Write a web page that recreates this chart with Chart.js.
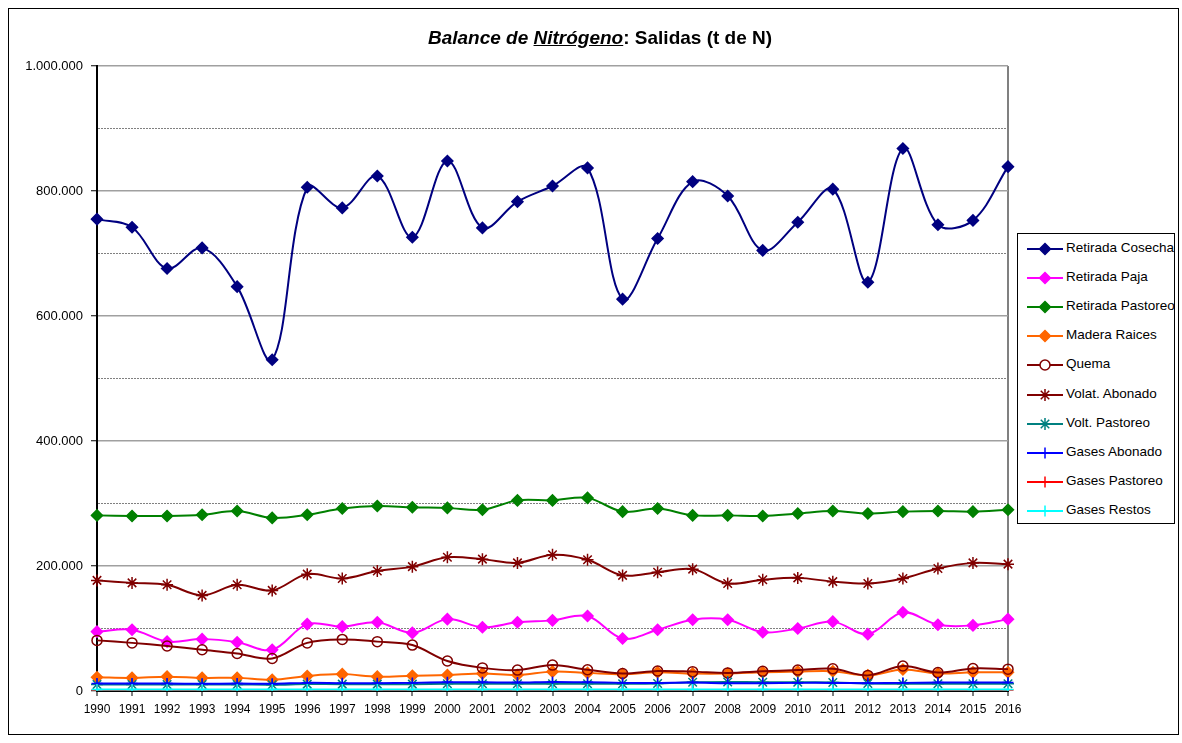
<!DOCTYPE html>
<html>
<head>
<meta charset="utf-8">
<script src="https://cdn.jsdelivr.net/npm/chart.js@4/dist/chart.umd.min.js"></script>
<style>
html,body{margin:0;padding:0;background:#fff;}
#wrap{position:relative;width:1182px;height:743px;overflow:hidden;background:#fff;}
#frame{position:absolute;left:8px;top:8px;width:1171px;height:727px;border:1px solid #000;box-sizing:border-box;pointer-events:none;}
#title{position:absolute;left:350px;width:500px;top:26px;text-align:center;font:bold 19px "Liberation Sans",Arial,sans-serif;color:#000;line-height:24px;}
#chart{position:absolute;left:0;top:0;}
#legend{position:absolute;left:1017px;top:233px;width:158px;height:291px;border:1px solid #000;box-sizing:border-box;background:#fff;}
.item{position:absolute;left:0;height:18px;white-space:nowrap;}
.item canvas{position:absolute;left:8px;top:0;}
.item span{position:absolute;left:48px;top:0;line-height:18px;font:13.5px "Liberation Sans",Arial,sans-serif;color:#000;}
</style>
</head>
<body>
<div id="wrap">
  <canvas id="chart" width="1182" height="743"></canvas>
  <div id="title"><i>Balance de <u>Nitrógeno</u></i>: Salidas (t de N)</div>
  <div id="legend"></div>
  <div id="frame"></div>
</div>
<script>
const years = ['1990','1991','1992','1993','1994','1995','1996','1997','1998','1999','2000','2001','2002','2003','2004','2005','2006','2007','2008','2009','2010','2011','2012','2013','2014','2015','2016'];

const retiradaCosecha = [755000,742000,676000,709000,647000,530000,806000,773000,824000,726000,848000,741000,783000,808000,837000,627000,724000,815000,792000,705000,750000,803000,654000,868000,746000,753000,839000];
const retiradaPaja = [95000,98000,79000,83000,78000,66000,107000,103000,110000,93000,115000,102000,110000,113000,120000,84000,98000,114000,114000,94000,100000,111000,91000,126000,106000,105000,115000];
const retiradaPastoreo = [281000,280000,280000,282000,288000,277000,282000,292000,296000,294000,293000,290000,305000,305000,309000,287000,292000,281000,281000,280000,284000,288000,284000,287000,288000,287000,290000];
const maderaRaices = [22000,21000,23000,21000,21000,18000,24000,27000,23000,24500,25500,28000,25500,31000,29000,27000,30000,28000,28000,30000,31000,31500,25000,34500,28000,30000,30000];
const quema = [81000,77000,72000,66000,60000,52000,77000,82500,79000,73500,48000,37000,33500,41500,34000,28000,32000,31000,29000,31500,33500,35500,25000,40000,29500,36000,35000];
const volatAbonado = [177000,173000,170000,153000,170000,161000,187000,180000,192000,199000,214000,211000,205000,218000,210000,185000,190000,195000,172000,178000,181000,175000,172000,180000,196000,205000,203000];
const voltPastoreo = [10500,10500,10500,10500,10500,10000,11000,11000,11000,11000,11500,11500,11500,11500,11500,11500,12000,14000,14500,14000,14000,13500,12000,11500,11500,11500,11500];
const gasesAbonado = [12000,12000,12000,11500,12000,11500,13000,12500,12500,13000,14000,14000,13500,14500,14000,13000,13000,13500,12500,12500,13000,13000,12500,13000,13500,13500,13500];
const gasesPastoreo = [1500,1500,1500,1500,1500,1500,1500,1500,1500,1500,1500,1500,1500,1500,1500,1500,1500,1500,1500,1500,1500,1500,1500,1500,1500,1500,1500];
const gasesRestos = [2500,2500,2500,2500,2500,2500,2500,2500,2500,2500,2500,2500,2500,2500,2500,2500,2500,2500,2500,2500,2500,2500,2500,2500,2500,2500,2500];

const seriesNames = ['Retirada Cosecha','Retirada Paja','Retirada Pastoreo','Madera Raices','Quema','Volat. Abonado','Volt. Pastoreo','Gases Abonado','Gases Pastoreo','Gases Restos'];
const seriesData = [retiradaCosecha,retiradaPaja,retiradaPastoreo,maderaRaices,quema,volatAbonado,voltPastoreo,gasesAbonado,gasesPastoreo,gasesRestos];
const styles = [
  {c:'#000080', p:'rectRot', r:5.5, fill:true},
  {c:'#FF00FF', p:'rectRot', r:5.5, fill:true},
  {c:'#008000', p:'rectRot', r:5.5, fill:true},
  {c:'#FF6600', p:'rectRot', r:5.5, fill:true},
  {c:'#800000', p:'circle', r:5, fill:false},
  {c:'#800000', p:'star', r:6, fill:false},
  {c:'#008080', p:'star', r:6, fill:false},
  {c:'#0000FF', p:'cross', r:5.5, fill:false},
  {c:'#FF0000', p:'cross', r:5.5, fill:false},
  {c:'#00FFFF', p:'cross', r:5.5, fill:false}
];

const FONT = '"Liberation Sans", Arial, sans-serif';
function fmt(v){ return String(v).replace(/\B(?=(\d{3})+(?!\d))/g,'.'); }

const datasets = seriesNames.map((n,i)=>({
  label:n,
  data:seriesData[i],
  borderColor:styles[i].c,
  backgroundColor: styles[i].fill ? styles[i].c : 'rgba(0,0,0,0)',
  pointStyle:styles[i].p,
  pointRadius:styles[i].r,
  pointHoverRadius:styles[i].r,
  pointBorderWidth:1.5,
  pointBackgroundColor: styles[i].fill ? styles[i].c : 'rgba(0,0,0,0)',
  pointBorderColor: styles[i].c,
  borderWidth:2,
  tension:0.35,
  fill:false,
  order: 9 - i
}));

new Chart(document.getElementById('chart'), {
  type:'line',
  data:{labels:years, datasets},
  options:{
    responsive:false,
    animation:false,
    events:[],
    layout:{padding:{left:0,right:174,top:66,bottom:0}},
    plugins:{legend:{display:false}, title:{display:false}, tooltip:{enabled:false}},
    scales:{
      x:{
        type:'category',
        offset:false,
        afterFit: s => { s.height = 52; },
        grid:{
          offset:false,
          drawOnChartArea:true,
          color: c => (c.index === years.length-1) ? '#808080' : 'rgba(0,0,0,0)',
          lineWidth: 2,
          tickColor:'#000',
          tickLength:5,
          tickWidth:1
        },
        border:{color:'#000', width:2},
        ticks:{color:'#000', font:{family:FONT, size:12}, padding:6, maxRotation:0, autoSkip:false}
      },
      y:{
        min:0, max:1000000,
        afterFit: s => { s.width = 97; },
        grid:{
          color: c => {
            if (!c.tick || c.tick.value === 0) return 'rgba(0,0,0,0)';
            return (c.tick.value % 200000 === 0) ? '#a0a0a0' : '#808080';
          },
          lineWidth: c => (c.tick && c.tick.value % 200000 === 0) ? 1.5 : 1,
          tickColor: c => (c.tick && c.tick.value % 200000 === 0) ? '#000' : 'rgba(0,0,0,0)',
          tickLength:6,
          tickWidth:1
        },
        border:{
          color:'#000', width:2,
          dash: c => (c.tick && c.tick.value % 200000 !== 0) ? [2,1] : []
        },
        ticks:{
          stepSize:100000,
          autoSkip:false,
          color:'#000',
          font:{family:FONT, size:13},
          padding:8,
          callback: v => (v % 200000 === 0) ? fmt(v) : ''
        }
      }
    }
  }
});

// HTML legend with small line+marker samples
const legend = document.getElementById('legend');
function drawMarker(ctx, st, x, y){
  const r = st.r;
  ctx.strokeStyle = st.c; ctx.fillStyle = st.c; ctx.lineWidth = 1.5;
  ctx.beginPath();
  if (st.p === 'rectRot'){
    ctx.moveTo(x, y-r); ctx.lineTo(x+r, y); ctx.lineTo(x, y+r); ctx.lineTo(x-r, y); ctx.closePath();
    ctx.fill(); ctx.stroke();
  } else if (st.p === 'circle'){
    ctx.fillStyle = '#fff';
    ctx.arc(x, y, r, 0, Math.PI*2); ctx.fill(); ctx.stroke();
  } else if (st.p === 'star'){
    for (let k=0;k<4;k++){
      const a = k*Math.PI/4;
      ctx.moveTo(x+Math.cos(a)*r, y+Math.sin(a)*r);
      ctx.lineTo(x-Math.cos(a)*r, y-Math.sin(a)*r);
    }
    ctx.stroke();
  } else {
    ctx.moveTo(x-r, y); ctx.lineTo(x+r, y); ctx.moveTo(x, y-r); ctx.lineTo(x, y+r); ctx.stroke();
  }
}
seriesNames.forEach((n,i)=>{
  const div = document.createElement('div');
  div.className = 'item';
  div.style.top = (15 + i*29.1 - 9) + 'px';
  const cv = document.createElement('canvas');
  cv.width = 38; cv.height = 18;
  const ctx = cv.getContext('2d');
  ctx.strokeStyle = styles[i].c; ctx.lineWidth = 2;
  ctx.beginPath(); ctx.moveTo(1, 9); ctx.lineTo(37, 9); ctx.stroke();
  drawMarker(ctx, styles[i], 19, 9);
  const sp = document.createElement('span');
  sp.textContent = n;
  div.appendChild(cv); div.appendChild(sp);
  legend.appendChild(div);
});
</script>
</body>
</html>
